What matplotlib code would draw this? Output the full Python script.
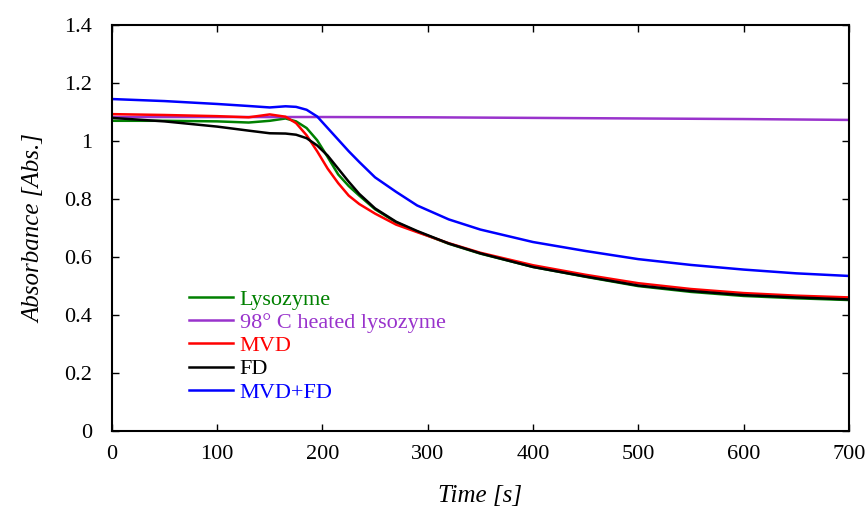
import numpy as np
import matplotlib
matplotlib.use('Agg')
import matplotlib.pyplot as plt

plt.rcParams['font.family'] = ['Liberation Serif', 'DejaVu Serif']

# Time points [s]
t = [0, 50, 100, 130, 150, 165, 175, 185, 195, 205, 215, 225, 235, 250,
     270, 290, 320, 350, 400, 450, 500, 550, 600, 650, 700]

lysozyme = [1.070, 1.070, 1.068, 1.064, 1.070, 1.078, 1.068, 1.045, 1.003, 0.945,
            0.885, 0.845, 0.812, 0.765, 0.720, 0.688, 0.646, 0.612, 0.566, 0.532,
            0.500, 0.480, 0.466, 0.458, 0.452]
mvd = [1.093, 1.090, 1.086, 1.082, 1.092, 1.084, 1.062, 1.020, 0.965, 0.905,
       0.855, 0.812, 0.783, 0.750, 0.712, 0.686, 0.648, 0.615, 0.572, 0.539,
       0.510, 0.490, 0.476, 0.467, 0.461]
fd = [1.080, 1.068, 1.050, 1.036, 1.027, 1.026, 1.022, 1.010, 0.985, 0.950,
      0.905, 0.860, 0.818, 0.768, 0.722, 0.690, 0.647, 0.613, 0.566, 0.533,
      0.502, 0.483, 0.469, 0.461, 0.454]
mvd_fd = [1.145, 1.138, 1.128, 1.121, 1.116, 1.120, 1.118, 1.108, 1.085, 1.045,
          1.005, 0.965, 0.928, 0.875, 0.825, 0.778, 0.730, 0.695, 0.652, 0.621,
          0.593, 0.573, 0.557, 0.544, 0.535]

t_heated = [0, 100, 200, 300, 400, 500, 600, 700]
heated = [1.083, 1.083, 1.083, 1.082, 1.080, 1.078, 1.076, 1.073]

fig = plt.figure(figsize=(8.67, 5.12), dpi=100)
ax = fig.add_axes([0.129, 0.158, 0.850, 0.793])

ax.plot(t, lysozyme, color='#008000', lw=1.8, label='Lysozyme')
ax.plot(t_heated, heated, color='#9933CC', lw=1.8, label='98° C heated lysozyme')
ax.plot(t, mvd, color='#FF0000', lw=1.8, label='MVD')
ax.plot(t, fd, color='black', lw=1.8, label='FD')
ax.plot(t, mvd_fd, color='#0000FF', lw=1.8, label='MVD+FD')

ax.set_xlim(0, 700)
ax.set_ylim(0, 1.4)
ax.set_xticks(np.arange(0, 701, 100))
ax.set_yticks(np.arange(0, 1.41, 0.2))
ax.set_yticklabels(['0', '0.2', '0.4', '0.6', '0.8', '1', '1.2', '1.4'])

ax.tick_params(direction='in', top=True, right=True, length=5, width=1,
               labelsize=16)
ax.tick_params(axis='x', pad=10)
ax.tick_params(axis='y', pad=14)
for s in ax.spines.values():
    s.set_linewidth(1.5)

ax.set_xlabel('Time [s]', fontsize=18, style='italic', labelpad=15)
ax.set_ylabel('Absorbance [Abs.]', fontsize=18, style='italic', labelpad=14)

leg = ax.legend(loc='upper left', bbox_to_anchor=(0.089, 0.377), frameon=False,
                fontsize=16, handlelength=2.0, handletextpad=0.3,
                labelspacing=0.12, borderpad=0, labelcolor='linecolor')

fig.savefig('out.png', dpi=100)
